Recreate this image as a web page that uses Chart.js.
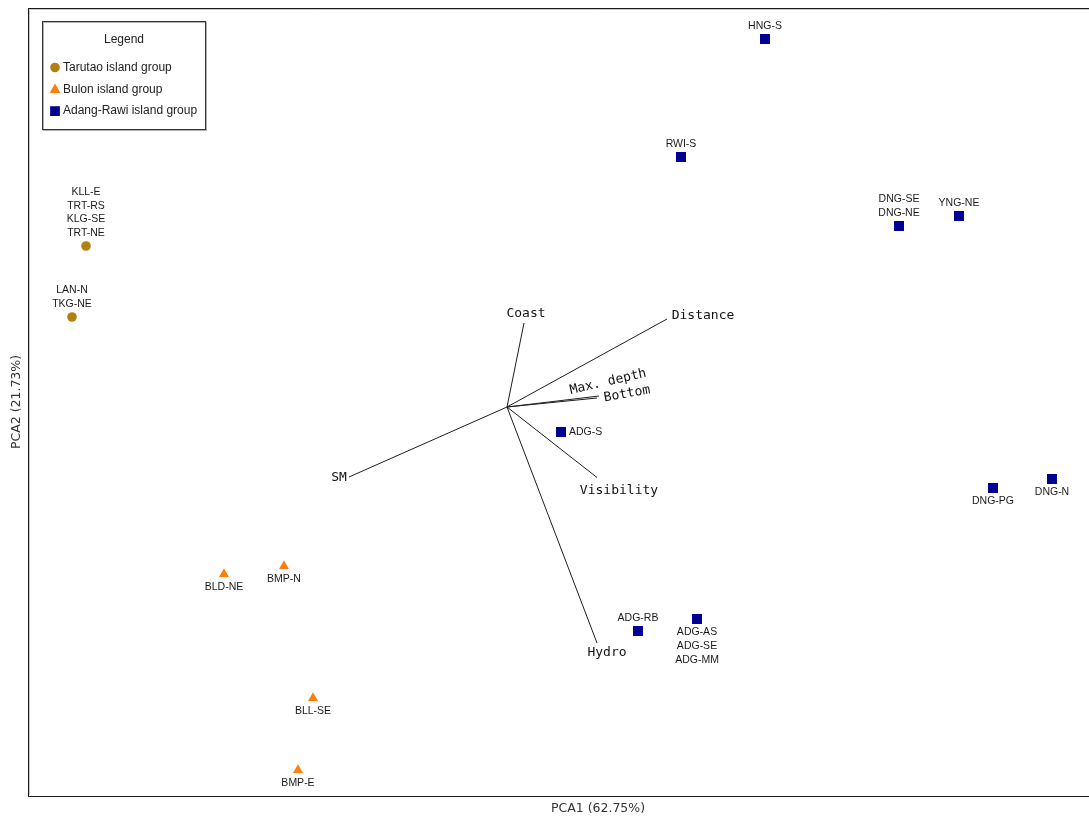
<!DOCTYPE html>
<html>
<head>
<meta charset="utf-8">
<script src="https://cdn.jsdelivr.net/npm/chart.js@4/dist/chart.umd.min.js"></script>
<style>
  html, body { margin: 0; padding: 0; overflow: hidden; background: #ffffff; }
  #wrap { position: relative; width: 1176px; height: 819px; }
</style>
</head>
<body>
<div id="wrap"><canvas id="pca"></canvas></div>
<script>
// Site scores on the first two principal components, one list per island group.
// A point may carry several site names when their scores coincide.
const tarutaoSites = [['KLL-E', 'TRT-RS', 'KLG-SE', 'TRT-NE'], ['LAN-N', 'TKG-NE']];
const tarutaoPC1 = [-4.21, -4.35];
const tarutaoPC2 = [1.61, 0.90];

const bulonSites = [['BLD-NE'], ['BMP-N'], ['BLL-SE'], ['BMP-E']];
const bulonPC1 = [-2.83, -2.23, -1.94, -2.09];
const bulonPC2 = [-1.67, -1.59, -2.91, -3.63];

const adangSites = [['HNG-S'], ['RWI-S'], ['DNG-SE', 'DNG-NE'], ['YNG-NE'], ['ADG-S'],
                    ['DNG-PG'], ['DNG-N'], ['ADG-RB'], ['ADG-AS', 'ADG-SE', 'ADG-MM']];
const adangPC1 = [2.58, 1.74, 3.92, 4.52, 0.54, 4.86, 5.45, 1.31, 1.90];
const adangPC2 = [3.68, 2.50, 1.81, 1.91, -0.25, -0.81, -0.72, -2.24, -2.12];

// Environmental variable loadings (arrow tips)
const variables = ['Coast', 'Distance', 'Max. depth', 'Bottom', 'Visibility', 'Hydro', 'SM'];
const loadPC1 = [0.17, 1.60, 0.92, 0.90, 0.90, 0.90, -1.58];
const loadPC2 = [0.84, 0.88, 0.11, 0.09, -0.705, -2.36, -0.70];

const groupNames = ['Tarutao island group', 'Bulon island group', 'Adang-Rawi island group'];
const legendTitle = 'Legend';
const axisTitleX = 'PCA1 (62.75%)';
const axisTitleY = 'PCA2 (21.73%)';

// ---- styling ----
const groupStyle = [
  { color: '#b3800f', pointStyle: 'circle',   radius: 4.8 },
  { color: '#ff7f0a', pointStyle: 'triangle', radius: 5.8 },
  { color: '#000092', pointStyle: 'rect',     radius: 7.1 }
];
// where each site label sits relative to its marker
const tarutaoLabelSide = ['above', 'above'];
const bulonLabelSide = ['below', 'below', 'below', 'below'];
const adangLabelSide = ['above', 'above', 'above', 'above', 'right', 'below', 'below', 'above', 'below'];

// pixel nudge of each variable name from its arrow tip, and its tilt (degrees)
const varLabelNudge = {
  'Coast':      { dx: 2,   dy: -9,  rot: 0 },
  'Distance':   { dx: 36,  dy: -3,  rot: 0 },
  'Max. depth': { dx: 9,   dy: -14, rot: -13 },
  'Bottom':     { dx: 30,  dy: -4,  rot: -10 },
  'Visibility': { dx: 22,  dy: 13,  rot: 0 },
  'Hydro':      { dx: 10,  dy: 10,  rot: 0 },
  'SM':         { dx: -10, dy: 1,   rot: 0 }
};

function toPoints(xs, ys, names, sides) {
  return xs.map((x, i) => ({ x: x, y: ys[i], names: names[i], side: sides[i] }));
}

const groups = [
  toPoints(tarutaoPC1, tarutaoPC2, tarutaoSites, tarutaoLabelSide),
  toPoints(bulonPC1, bulonPC2, bulonSites, bulonLabelSide),
  toPoints(adangPC1, adangPC2, adangSites, adangLabelSide)
];

const datasets = [];
// loading vectors from the origin
variables.forEach((v, i) => {
  datasets.push({
    type: 'line',
    label: v,
    isLoading: true,
    data: [{ x: 0, y: 0 }, { x: loadPC1[i], y: loadPC2[i] }],
    borderColor: '#1e1e1e',
    borderWidth: 1,
    pointRadius: 0,
    fill: false,
    tension: 0
  });
});
groups.forEach((pts, g) => {
  datasets.push({
    type: 'scatter',
    label: groupNames[g],
    isGroup: true,
    data: pts,
    pointStyle: groupStyle[g].pointStyle,
    pointRadius: groupStyle[g].radius,
    pointHoverRadius: groupStyle[g].radius,
    backgroundColor: groupStyle[g].color,
    borderColor: groupStyle[g].color,
    borderWidth: 0
  });
});

function drawMarker(ctx, style, x, y) {
  const r = style.radius;
  ctx.save();
  ctx.fillStyle = style.color;
  ctx.beginPath();
  if (style.pointStyle === 'circle') {
    ctx.arc(x, y, r, 0, Math.PI * 2);
  } else if (style.pointStyle === 'triangle') {
    ctx.moveTo(x, y - r);
    ctx.lineTo(x + r * Math.sqrt(3) / 2, y + r / 2);
    ctx.lineTo(x - r * Math.sqrt(3) / 2, y + r / 2);
    ctx.closePath();
  } else {
    const s = r * Math.SQRT1_2;
    ctx.rect(x - s, y - s, 2 * s, 2 * s);
  }
  ctx.fill();
  ctx.restore();
}

const biplotDecor = {
  id: 'biplotDecor',
  afterDatasetsDraw(chart) {
    const ctx = chart.ctx;
    const xs = chart.scales.x, ys = chart.scales.y;
    const area = chart.chartArea;

    // site labels
    ctx.save();
    ctx.font = '10.5px "Liberation Sans", Arial, sans-serif';
    ctx.fillStyle = '#1a1a1a';
    ctx.textBaseline = 'middle';
    const lh = 13.6;
    chart.data.datasets.forEach(ds => {
      if (!ds.isGroup) return;
      ds.data.forEach(p => {
        const px = xs.getPixelForValue(p.x), py = ys.getPixelForValue(p.y);
        const n = p.names.length;
        p.names.forEach((name, k) => {
          if (p.side === 'right') {
            ctx.textAlign = 'left';
            ctx.fillText(name, px + 8, py);
          } else if (p.side === 'above') {
            ctx.textAlign = 'center';
            ctx.fillText(name, px, py - 13 - (n - 1 - k) * lh);
          } else {
            ctx.textAlign = 'center';
            ctx.fillText(name, px, py + 13.5 + k * lh);
          }
        });
      });
    });
    ctx.restore();

    // variable names at the arrow tips
    ctx.save();
    ctx.font = '13px "DejaVu Sans Mono", monospace';
    ctx.fillStyle = '#111111';
    ctx.textAlign = 'center';
    ctx.textBaseline = 'middle';
    variables.forEach((v, i) => {
      const nd = varLabelNudge[v];
      const tx = xs.getPixelForValue(loadPC1[i]) + nd.dx;
      const ty = ys.getPixelForValue(loadPC2[i]) + nd.dy;
      ctx.save();
      ctx.translate(tx, ty);
      ctx.rotate(nd.rot * Math.PI / 180);
      ctx.fillText(v, 0, 0);
      ctx.restore();
    });
    ctx.restore();
  },
  afterDraw(chart) {
    const ctx = chart.ctx;
    const area = chart.chartArea;

    // plot frame
    ctx.save();
    ctx.strokeStyle = '#c8c8c8';
    ctx.lineWidth = 1;
    ctx.beginPath();
    ctx.moveTo(area.left + 1.5, area.bottom - 1);
    ctx.lineTo(area.left + 1.5, area.top + 1.5);
    ctx.lineTo(area.right - 1, area.top + 1.5);
    ctx.stroke();
    ctx.strokeStyle = '#1a1a1a';
    ctx.lineWidth = 1;
    ctx.strokeRect(area.left + 0.5, area.top + 0.5, area.right - area.left - 1, area.bottom - area.top);
    ctx.beginPath();
    ctx.moveTo(area.left, area.bottom + 0.5);
    ctx.lineTo(area.right, area.bottom + 0.5);
    ctx.stroke();
    ctx.restore();

    // axis titles
    ctx.save();
    ctx.font = '12.5px "DejaVu Sans", Verdana, sans-serif';
    ctx.fillStyle = '#333333';
    ctx.textAlign = 'center';
    ctx.textBaseline = 'middle';
    ctx.fillText(axisTitleX, (area.left + area.right) / 2, 809);
    ctx.translate(17, (area.top + area.bottom) / 2);
    ctx.rotate(-Math.PI / 2);
    ctx.fillText(axisTitleY, 0, 0);
    ctx.restore();

    // legend box
    const bx = 42.5, by = 21.5, bw = 163, bh = 108;
    ctx.save();
    ctx.fillStyle = '#ffffff';
    ctx.fillRect(bx, by, bw, bh);
    ctx.strokeStyle = '#b0b0b0';
    ctx.lineWidth = 1;
    ctx.strokeRect(bx + 1, by + 1, bw, bh);
    ctx.strokeStyle = '#333333';
    ctx.strokeRect(bx, by, bw, bh);
    ctx.font = '12px "Liberation Sans", Arial, sans-serif';
    ctx.fillStyle = '#222222';
    ctx.textAlign = 'center';
    ctx.textBaseline = 'middle';
    ctx.fillText(legendTitle, bx + bw / 2, 40);
    ctx.textAlign = 'left';
    const groupSets = chart.data.datasets.filter(d => d.isGroup);
    groupSets.forEach((ds, g) => {
      const ly = 67.5 + g * 21.8;
      const st = { color: ds.backgroundColor, pointStyle: ds.pointStyle,
                   radius: ds.pointStyle === 'rect' ? 6.9 : (ds.pointStyle === 'triangle' ? 6.2 : 4.8) };
      drawMarker(ctx, st, 55, ly + (ds.pointStyle === 'triangle' ? 0.5 : 0));
      ctx.fillStyle = '#222222';
      ctx.fillText(ds.label, 63, ly);
    });
    ctx.restore();
  }
};

new Chart(document.getElementById('pca'), {
  type: 'scatter',
  data: { datasets: datasets },
  options: {
    responsive: true,
    maintainAspectRatio: false,
    animation: false,
    layout: { padding: { left: 28, top: 8, right: 8, bottom: 23 } },
    plugins: {
      legend: { display: false },
      tooltip: { enabled: false },
      title: { display: false }
    },
    scales: {
      x: { type: 'linear', min: -4.79, max: 6.61, display: false },
      y: { type: 'linear', min: -3.89, max: 3.99, display: false }
    }
  },
  plugins: [biplotDecor]
});
</script>
</body>
</html>
